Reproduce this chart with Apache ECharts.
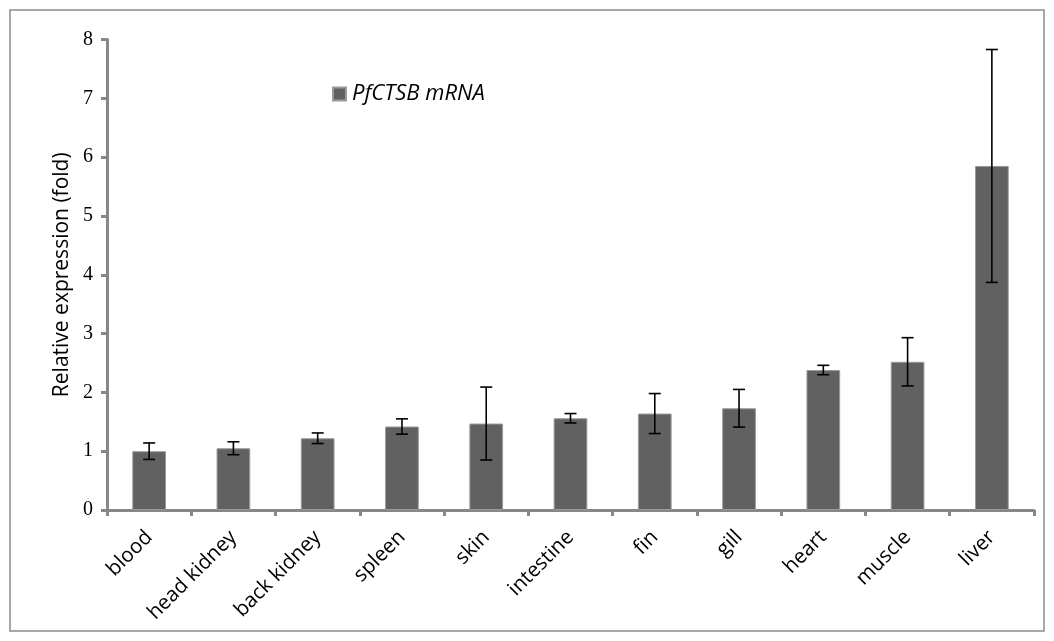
<!DOCTYPE html>
<html>
<head>
<meta charset="utf-8">
<script src="https://cdn.jsdelivr.net/npm/echarts@6/dist/echarts.min.js"></script>
<style>
  html, body { margin: 0; padding: 0; background: #fff; }
  #chart { width: 1054px; height: 641px; }
</style>
</head>
<body>
<div id="chart"></div>
<script>
// tissues (x axis)
var tissues = ['blood', 'head kidney', 'back kidney', 'spleen', 'skin', 'intestine', 'fin', 'gill', 'heart', 'muscle', 'liver'];
// relative expression (fold)
var foldMean = [1.00, 1.05, 1.22, 1.42, 1.47, 1.56, 1.64, 1.73, 2.38, 2.52, 5.85];
// error bar half-length
var foldErr = [0.14, 0.11, 0.09, 0.13, 0.62, 0.08, 0.34, 0.32, 0.08, 0.41, 1.98];
var yTicks = [0, 1, 2, 3, 4, 5, 6, 7, 8];

var errData = [];
for (var i = 0; i < tissues.length; i++) {
    errData.push([i, foldMean[i] - foldErr[i], foldMean[i] + foldErr[i]]);
}

var myChart = echarts.init(document.getElementById('chart'));
var option = {
    animation: false,
    backgroundColor: '#fff',
    graphic: [{
        type: 'rect',
        shape: { x: 10, y: 10, width: 1034, height: 621 },
        style: { fill: 'none', stroke: '#8c8c8c', lineWidth: 1.5 },
        z: -1
    }],
    grid: { left: 107, right: 20, top: 39.5, bottom: 131, containLabel: false },
    legend: {
        left: 332, top: 83,
        padding: 0,
        itemWidth: 13, itemHeight: 13,
        itemGap: 6,
        data: [{ name: 'PfCTSB mRNA', icon: 'rect' }],
        textStyle: { fontFamily: 'Open Sans', fontStyle: 'italic', fontSize: 22, color: '#000', padding: [0, 0, 0, 1] }
    },
    xAxis: {
        type: 'category',
        data: tissues,
        axisLine: { lineStyle: { color: '#878787', width: 3 } },
        axisTick: { show: true, alignWithLabel: false, length: 6, lineStyle: { color: '#878787', width: 3 } },
        axisLabel: { rotate: 45, fontFamily: 'Open Sans', fontSize: 20.5, color: '#000', margin: 24, interval: 0 }
    },
    yAxis: {
        type: 'value',
        min: yTicks[0], max: yTicks[yTicks.length - 1], interval: 1,
        name: 'Relative expression (fold)',
        nameLocation: 'middle',
        nameGap: 34,
        nameTextStyle: { fontFamily: 'Open Sans', fontSize: 21, color: '#000' },
        axisLine: { show: true, lineStyle: { color: '#878787', width: 3 } },
        axisTick: { show: true, length: 6, lineStyle: { color: '#878787', width: 3 } },
        splitLine: { show: false },
        axisLabel: { fontFamily: 'Liberation Serif', fontSize: 20, color: '#000', margin: 14 }
    },
    series: [{
        name: 'PfCTSB mRNA',
        type: 'bar',
        data: foldMean,
        barWidth: '40%',
        itemStyle: { color: '#616161', borderColor: '#9a9a9a', borderWidth: 1 }
    }, {
        name: 'err',
        type: 'custom',
        data: errData,
        z: 10,
        renderItem: function (params, api) {
            var x = api.value(0);
            var lo = api.coord([x, api.value(1)]);
            var hi = api.coord([x, api.value(2)]);
            var w = 6;
            var st = { stroke: '#000', lineWidth: 1.6 };
            return {
                type: 'group',
                children: [
                    { type: 'line', shape: { x1: lo[0], y1: lo[1], x2: hi[0], y2: hi[1] }, style: st },
                    { type: 'line', shape: { x1: lo[0] - w, y1: lo[1], x2: lo[0] + w, y2: lo[1] }, style: st },
                    { type: 'line', shape: { x1: hi[0] - w, y1: hi[1], x2: hi[0] + w, y2: hi[1] }, style: st }
                ]
            };
        }
    }]
};
myChart.setOption(option);
</script>
</body>
</html>
